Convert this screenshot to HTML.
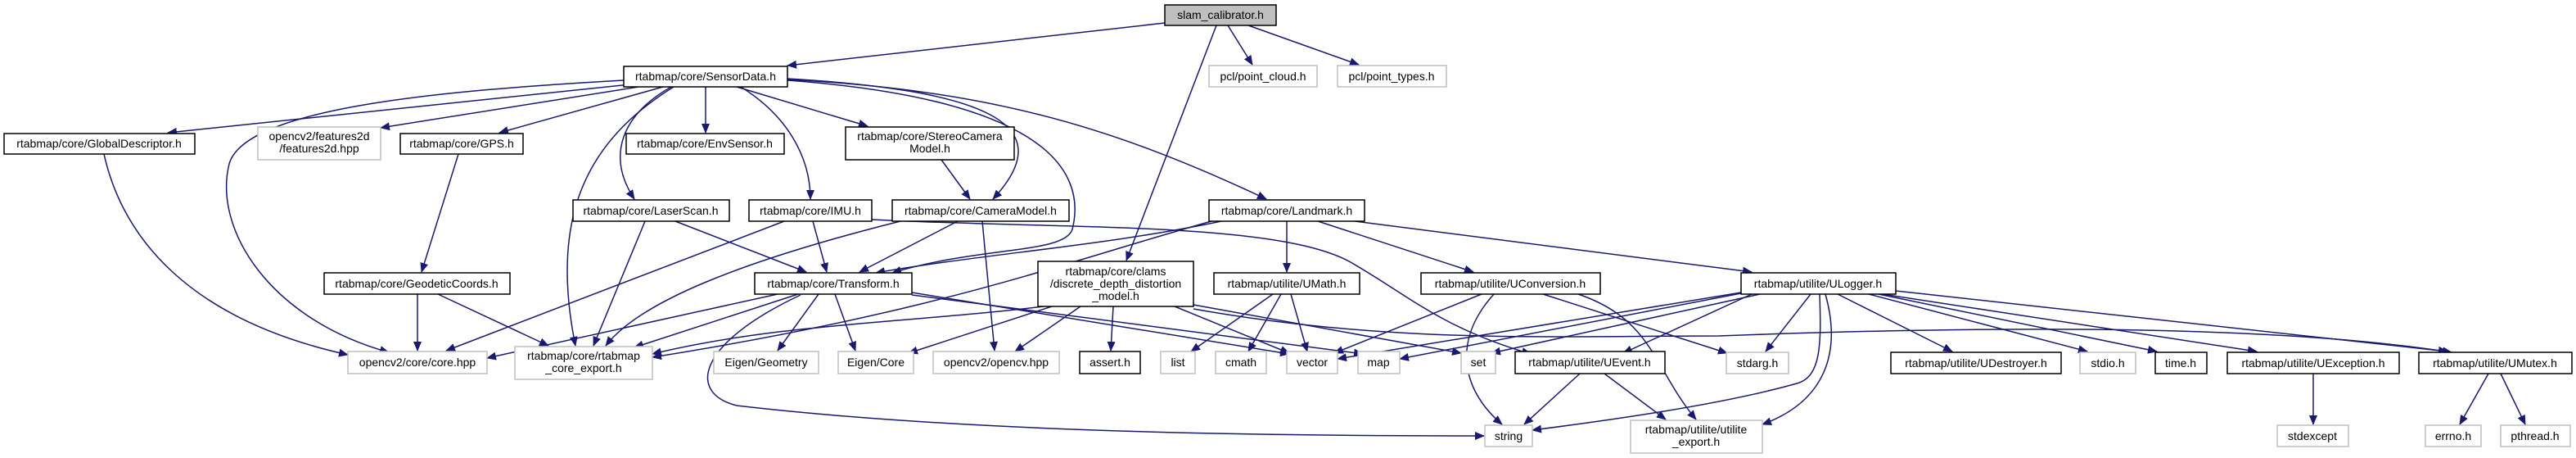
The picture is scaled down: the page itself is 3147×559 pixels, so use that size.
<!DOCTYPE html>
<html><head><meta charset="utf-8"><style>
html,body{margin:0;padding:0;background:#fff;width:3147px;height:559px;overflow:hidden}
svg{display:block}
text{font-family:"Liberation Sans","DejaVu Sans",sans-serif;font-size:14px;fill:#000}
.n{fill:#fff;stroke:#000;stroke-width:1.5}
.g{fill:#fff;stroke:#bfbfbf;stroke-width:1.5}
.e{fill:none;stroke:#191970;stroke-width:1.5}
</style></head><body>
<svg width="3147" height="559" viewBox="0 0 3147 559" xmlns="http://www.w3.org/2000/svg">
<defs><marker id="a" markerUnits="userSpaceOnUse" markerWidth="12" markerHeight="10" refX="11" refY="5" orient="auto"><path d="M0,0 L12,5 L0,10 z" fill="#191970"/></marker></defs>
<g class="e" marker-end="url(#a)">
<path d="M1423,28 L962,80"/>
<path d="M1486,31 L1376,318"/>
<path d="M1500,31 L1530,79"/>
<path d="M1525,31 L1660,79"/>
<path d="M770,103 L205,162"/>
<path d="M780,106 L465,156"/>
<path d="M810,106 L610,162"/>
<path d="M862,106 L862,162"/>
<path d="M900,106 L1060,154"/>
<path d="M820,106 C760,140 740,190 775,243"/>
<path d="M905,106 C960,140 990,190 990,243"/>
<path d="M962,96 C1200,110 1300,150 1213,243"/>
<path d="M962,97 C1200,110 1350,150 1547,243"/>
<path d="M962,98 C1260,120 1330,200 1310,280 C1300,310 1200,300 1090,333"/>
<path d="M762,98 C550,110 300,130 280,200 C260,280 330,390 475,430"/>
<path d="M823,106 C720,170 670,260 703,422"/>
<path d="M127,188 C150,290 230,390 425,433"/>
<path d="M560,188 L515,332"/>
<path d="M510,359 L510,428"/>
<path d="M535,359 L670,422"/>
<path d="M788,270 L725,422"/>
<path d="M825,270 L985,332"/>
<path d="M958,270 L545,428"/>
<path d="M993,270 L1010,332"/>
<path d="M1170,270 L1050,332"/>
<path d="M1200,270 L1215,428"/>
<path d="M1100,270 C900,320 780,370 740,422"/>
<path d="M1150,195 L1185,243"/>
<path d="M1492,270 C1350,300 1200,310 1070,333"/>
<path d="M1480,270 C1300,320 1150,380 797,436"/>
<path d="M1572,270 L1572,332"/>
<path d="M1610,270 L1800,332"/>
<path d="M1655,270 L2140,332"/>
<path d="M1065,268 C1300,280 1560,270 1650,320 C1720,360 1760,400 1870,432"/>
<path d="M950,359 L595,437"/>
<path d="M975,359 L775,424"/>
<path d="M1000,359 L950,428"/>
<path d="M1020,359 L1045,428"/>
<path d="M978,360 C850,420 840,480 900,495 C1200,530 1600,532 1813,532"/>
<path d="M1114,357 L1575,432"/>
<path d="M1114,360 L1665,432"/>
<path d="M1285,374 L1110,431"/>
<path d="M1320,374 L1240,429"/>
<path d="M1360,374 L1357,428"/>
<path d="M1435,374 L1575,431"/>
<path d="M1458,372 L1785,431"/>
<path d="M1275,374 C1100,395 950,395 797,432"/>
<path d="M1458,377 C1700,420 1900,410 2100,410 C2500,395 2800,400 2995,430"/>
<path d="M1555,359 L1455,429"/>
<path d="M1565,359 L1525,429"/>
<path d="M1577,359 L1597,429"/>
<path d="M1810,359 L1630,431"/>
<path d="M1825,359 C1770,420 1790,480 1835,518"/>
<path d="M1885,359 L2110,431"/>
<path d="M1928,359 C2020,390 2020,450 2072,512"/>
<path d="M2127,357 L1634,438"/>
<path d="M2127,358 L1710,438"/>
<path d="M2150,359 L1822,431"/>
<path d="M2140,359 L1983,431"/>
<path d="M2212,359 L2157,429"/>
<path d="M2223,359 C2225,420 2225,460 2195,468 C2100,495 1950,515 1872,525"/>
<path d="M2230,359 C2250,430 2230,490 2153,518"/>
<path d="M2245,359 L2385,429"/>
<path d="M2283,359 L2550,429"/>
<path d="M2295,359 L2635,429"/>
<path d="M2300,359 L2757,429"/>
<path d="M2316,355 L2990,429"/>
<path d="M1930,456 L1862,518"/>
<path d="M1960,456 L2035,512"/>
<path d="M2826,456 L2826,518"/>
<path d="M3040,456 L3005,518"/>
<path d="M3055,456 L3085,518"/>
</g>
<rect x="1423" y="6" width="136" height="25" fill="#bfbfbf" stroke="#000" stroke-width="1.5"/><text x="1491" y="23" text-anchor="middle">slam_calibrator.h</text>
<rect class="n" x="762" y="81" width="200" height="25"/><text x="862" y="98" text-anchor="middle">rtabmap/core/SensorData.h</text>
<rect class="g" x="1477" y="80" width="132" height="26"/><text x="1543" y="98" text-anchor="middle">pcl/point_cloud.h</text>
<rect class="g" x="1634" y="80" width="133" height="26"/><text x="1700" y="98" text-anchor="middle">pcl/point_types.h</text>
<rect class="n" x="5" y="163" width="233" height="25"/><text x="121" y="180" text-anchor="middle">rtabmap/core/GlobalDescriptor.h</text>
<rect class="g" x="315" y="155" width="150" height="40"/><text x="390" y="171" text-anchor="middle">opencv2/features2d</text><text x="390" y="186" text-anchor="middle">/features2d.hpp</text>
<rect class="n" x="489" y="163" width="150" height="25"/><text x="564" y="180" text-anchor="middle">rtabmap/core/GPS.h</text>
<rect class="n" x="765" y="163" width="193" height="25"/><text x="861" y="180" text-anchor="middle">rtabmap/core/EnvSensor.h</text>
<rect class="n" x="1033" y="155" width="206" height="40"/><text x="1136" y="171" text-anchor="middle">rtabmap/core/StereoCamera</text><text x="1136" y="186" text-anchor="middle">Model.h</text>
<rect class="n" x="700" y="244" width="191" height="26"/><text x="795" y="262" text-anchor="middle">rtabmap/core/LaserScan.h</text>
<rect class="n" x="915" y="244" width="150" height="26"/><text x="990" y="262" text-anchor="middle">rtabmap/core/IMU.h</text>
<rect class="n" x="1090" y="244" width="216" height="26"/><text x="1198" y="262" text-anchor="middle">rtabmap/core/CameraModel.h</text>
<rect class="n" x="1477" y="244" width="190" height="26"/><text x="1572" y="262" text-anchor="middle">rtabmap/core/Landmark.h</text>
<rect class="n" x="396" y="333" width="227" height="26"/><text x="509" y="351" text-anchor="middle">rtabmap/core/GeodeticCoords.h</text>
<rect class="n" x="922" y="333" width="192" height="26"/><text x="1018" y="351" text-anchor="middle">rtabmap/core/Transform.h</text>
<rect class="n" x="1268" y="319" width="190" height="55"/><text x="1363" y="336" text-anchor="middle">rtabmap/core/clams</text><text x="1363" y="351" text-anchor="middle">/discrete_depth_distortion</text><text x="1363" y="366" text-anchor="middle">_model.h</text>
<rect class="n" x="1483" y="333" width="178" height="26"/><text x="1572" y="351" text-anchor="middle">rtabmap/utilite/UMath.h</text>
<rect class="n" x="1736" y="333" width="219" height="26"/><text x="1845" y="351" text-anchor="middle">rtabmap/utilite/UConversion.h</text>
<rect class="n" x="2127" y="333" width="189" height="26"/><text x="2221" y="351" text-anchor="middle">rtabmap/utilite/ULogger.h</text>
<rect class="g" x="425" y="429" width="170" height="27"/><text x="510" y="447" text-anchor="middle">opencv2/core/core.hpp</text>
<rect class="g" x="629" y="423" width="168" height="40"/><text x="713" y="439" text-anchor="middle">rtabmap/core/rtabmap</text><text x="713" y="454" text-anchor="middle">_core_export.h</text>
<rect class="g" x="872" y="429" width="128" height="27"/><text x="936" y="447" text-anchor="middle">Eigen/Geometry</text>
<rect class="g" x="1024" y="429" width="92" height="27"/><text x="1070" y="447" text-anchor="middle">Eigen/Core</text>
<rect class="g" x="1140" y="429" width="154" height="27"/><text x="1217" y="447" text-anchor="middle">opencv2/opencv.hpp</text>
<rect class="n" x="1319" y="429" width="74" height="27"/><text x="1356" y="447" text-anchor="middle">assert.h</text>
<rect class="g" x="1418" y="429" width="42" height="27"/><text x="1439" y="447" text-anchor="middle">list</text>
<rect class="g" x="1485" y="429" width="62" height="27"/><text x="1516" y="447" text-anchor="middle">cmath</text>
<rect class="g" x="1572" y="429" width="62" height="27"/><text x="1603" y="447" text-anchor="middle">vector</text>
<rect class="g" x="1659" y="429" width="51" height="27"/><text x="1684" y="447" text-anchor="middle">map</text>
<rect class="g" x="1785" y="429" width="42" height="27"/><text x="1806" y="447" text-anchor="middle">set</text>
<rect class="n" x="1851" y="429" width="183" height="27"/><text x="1942" y="447" text-anchor="middle">rtabmap/utilite/UEvent.h</text>
<rect class="g" x="2109" y="430" width="76" height="26"/><text x="2147" y="448" text-anchor="middle">stdarg.h</text>
<rect class="n" x="2310" y="430" width="208" height="26"/><text x="2414" y="448" text-anchor="middle">rtabmap/utilite/UDestroyer.h</text>
<rect class="g" x="2541" y="430" width="68" height="26"/><text x="2575" y="448" text-anchor="middle">stdio.h</text>
<rect class="n" x="2633" y="430" width="63" height="26"/><text x="2664" y="448" text-anchor="middle">time.h</text>
<rect class="n" x="2721" y="430" width="210" height="26"/><text x="2826" y="448" text-anchor="middle">rtabmap/utilite/UException.h</text>
<rect class="n" x="2955" y="430" width="187" height="26"/><text x="3048" y="448" text-anchor="middle">rtabmap/utilite/UMutex.h</text>
<rect class="g" x="1814" y="519" width="58" height="26"/><text x="1843" y="537" text-anchor="middle">string</text>
<rect class="g" x="1992" y="513" width="161" height="40"/><text x="2072" y="529" text-anchor="middle">rtabmap/utilite/utilite</text><text x="2072" y="544" text-anchor="middle">_export.h</text>
<rect class="g" x="2782" y="519" width="87" height="26"/><text x="2825" y="537" text-anchor="middle">stdexcept</text>
<rect class="g" x="2963" y="519" width="68" height="26"/><text x="2997" y="537" text-anchor="middle">errno.h</text>
<rect class="g" x="3055" y="519" width="85" height="26"/><text x="3097" y="537" text-anchor="middle">pthread.h</text>
</svg>
</body></html>
